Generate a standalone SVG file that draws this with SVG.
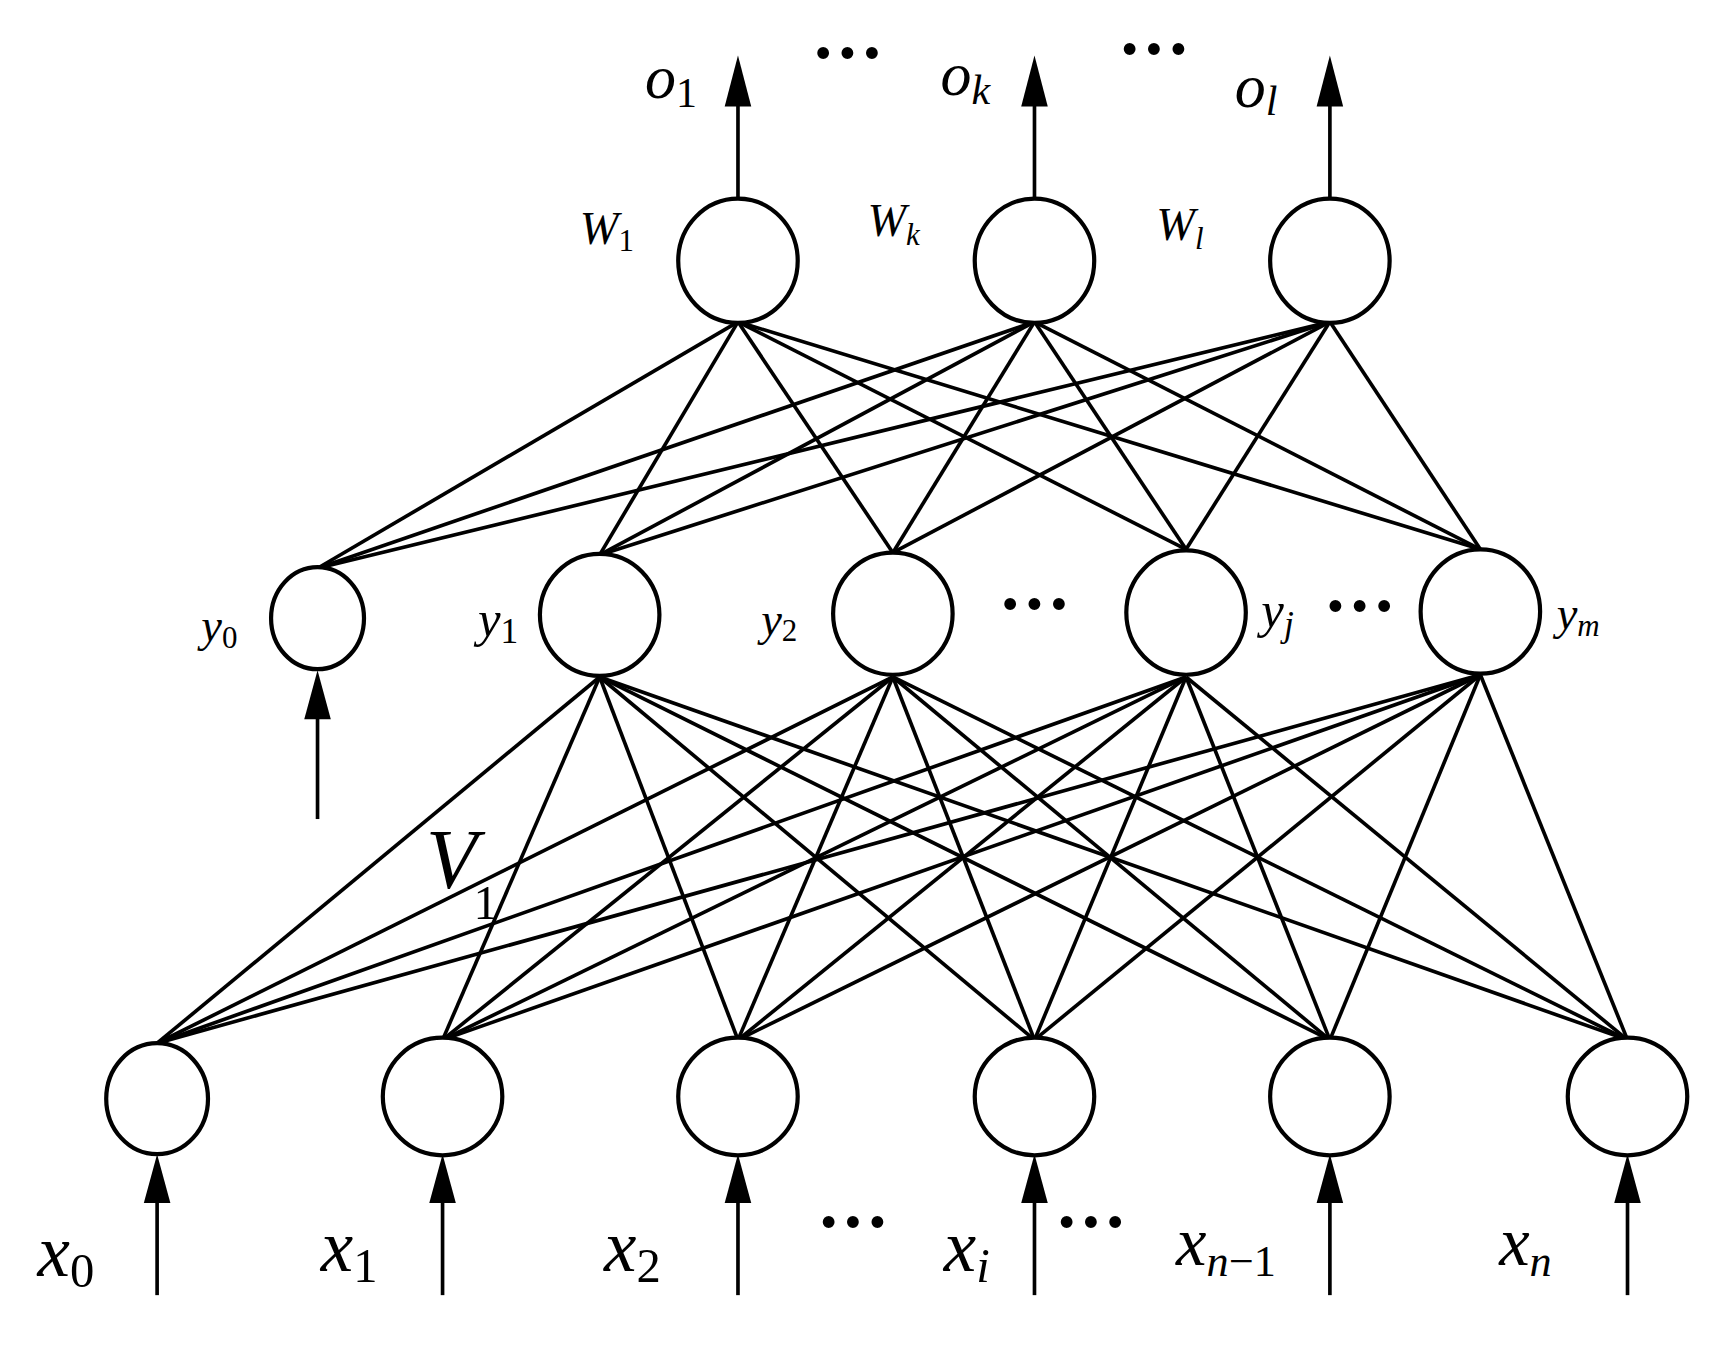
<svg xmlns="http://www.w3.org/2000/svg" width="1726" height="1354" viewBox="0 0 1726 1354">
<defs>
<style>
.n{fill:#fff;stroke:#000;stroke-width:3.8}
.c line{stroke:#000;stroke-width:3.3}
.a{fill:#000}
text{font-family:"Liberation Serif",serif;font-style:italic;fill:#000}
.s{font-style:normal}
.d{font-style:normal;font-weight:bold;font-size:66px}
</style>
</defs>
<rect width="1726" height="1354" fill="#fff"/>
<g transform="scale(1.1064,1.1098)">
<g class="c" id="connectors">
<line x1="667" y1="290" x2="287" y2="512"/><line x1="667" y1="290" x2="542" y2="500"/><line x1="667" y1="290" x2="807" y2="498"/><line x1="667" y1="290" x2="1072" y2="495"/><line x1="667" y1="290" x2="1338" y2="495"/>
<line x1="935" y1="290" x2="287" y2="512"/><line x1="935" y1="290" x2="542" y2="500"/><line x1="935" y1="290" x2="807" y2="498"/><line x1="935" y1="290" x2="1072" y2="495"/><line x1="935" y1="290" x2="1338" y2="495"/>
<line x1="1202" y1="290" x2="287" y2="512"/><line x1="1202" y1="290" x2="542" y2="500"/><line x1="1202" y1="290" x2="807" y2="498"/><line x1="1202" y1="290" x2="1072" y2="495"/><line x1="1202" y1="290" x2="1338" y2="495"/>
<line x1="542" y1="610" x2="142" y2="940"/><line x1="542" y1="610" x2="400" y2="937"/><line x1="542" y1="610" x2="667" y2="937"/><line x1="542" y1="610" x2="935" y2="937"/><line x1="542" y1="610" x2="1202" y2="937"/><line x1="542" y1="610" x2="1471" y2="937"/>
<line x1="807" y1="610" x2="142" y2="940"/><line x1="807" y1="610" x2="400" y2="937"/><line x1="807" y1="610" x2="667" y2="937"/><line x1="807" y1="610" x2="935" y2="937"/><line x1="807" y1="610" x2="1202" y2="937"/><line x1="807" y1="610" x2="1471" y2="937"/>
<line x1="1072" y1="610" x2="142" y2="940"/><line x1="1072" y1="610" x2="400" y2="937"/><line x1="1072" y1="610" x2="667" y2="937"/><line x1="1072" y1="610" x2="935" y2="937"/><line x1="1072" y1="610" x2="1202" y2="937"/><line x1="1072" y1="610" x2="1471" y2="937"/>
<line x1="1338" y1="608" x2="142" y2="940"/><line x1="1338" y1="608" x2="400" y2="937"/><line x1="1338" y1="608" x2="667" y2="937"/><line x1="1338" y1="608" x2="935" y2="937"/><line x1="1338" y1="608" x2="1202" y2="937"/><line x1="1338" y1="608" x2="1471" y2="937"/>
<line x1="667" y1="180" x2="667" y2="90"/><line x1="935" y1="180" x2="935" y2="90"/><line x1="1202" y1="180" x2="1202" y2="90"/>
<line x1="287" y1="738" x2="287" y2="640"/>
<line x1="142" y1="1167" x2="142" y2="1075"/><line x1="400" y1="1167" x2="400" y2="1075"/><line x1="667" y1="1167" x2="667" y2="1075"/><line x1="935" y1="1167" x2="935" y2="1075"/><line x1="1202" y1="1167" x2="1202" y2="1075"/><line x1="1471" y1="1167" x2="1471" y2="1075"/>
<polygon class="a" points="667,50 655,96 679,96"/><polygon class="a" points="935,50 923,96 947,96"/><polygon class="a" points="1202,50 1190,96 1214,96"/>
<polygon class="a" points="287,604 275,648 299,648"/>
<polygon class="a" points="142,1040 130,1084 154,1084"/><polygon class="a" points="400,1040 388,1084 412,1084"/><polygon class="a" points="667,1040 655,1084 679,1084"/><polygon class="a" points="935,1040 923,1084 947,1084"/><polygon class="a" points="1202,1040 1190,1084 1214,1084"/><polygon class="a" points="1471,1040 1459,1084 1483,1084"/>
</g>
<g id="w1"><ellipse class="n" cx="667" cy="235" rx="54" ry="56"/></g>
<g id="wk"><ellipse class="n" cx="935" cy="235" rx="54" ry="56"/></g>
<g id="wl"><ellipse class="n" cx="1202" cy="235" rx="54" ry="56"/></g>
<g id="y0"><ellipse class="n" cx="287" cy="557" rx="42" ry="46"/></g>
<g id="y1"><ellipse class="n" cx="542" cy="554" rx="54" ry="55"/></g>
<g id="y2"><ellipse class="n" cx="807" cy="553" rx="54" ry="55"/></g>
<g id="yj"><ellipse class="n" cx="1072" cy="552" rx="54" ry="56"/></g>
<g id="ym"><ellipse class="n" cx="1338" cy="551" rx="54" ry="56"/></g>
<g id="x0"><ellipse class="n" cx="142" cy="990" rx="46" ry="50"/></g>
<g id="x1"><ellipse class="n" cx="400" cy="988" rx="54" ry="53"/></g>
<g id="x2"><ellipse class="n" cx="667" cy="988" rx="54" ry="53"/></g>
<g id="xi"><ellipse class="n" cx="935" cy="988" rx="54" ry="53"/></g>
<g id="xn1"><ellipse class="n" cx="1202" cy="988" rx="54" ry="53"/></g>
<g id="xn"><ellipse class="n" cx="1471" cy="988" rx="54" ry="53"/></g>
<g id="labels">
<text x="583" y="88" font-size="56">o<tspan class="s" font-size="38" dy="8">1</tspan></text>
<text x="850" y="86" font-size="56">o<tspan font-size="38" dy="8">k</tspan></text>
<text x="1116" y="96" font-size="56">o<tspan font-size="38" dy="8">l</tspan></text>
<text x="733" y="70" class="d">···</text>
<text x="1010" y="67" class="d">···</text>
<text x="524" y="220" font-size="42">W<tspan class="s" font-size="28" dy="6">1</tspan></text>
<text x="784" y="213" font-size="42">W<tspan font-size="28" dy="8">k</tspan></text>
<text x="1045" y="216" font-size="42">W<tspan font-size="28" dy="8">l</tspan></text>
<text x="182" y="578" font-size="42">y<tspan class="s" font-size="28" dy="6">0</tspan></text>
<text x="432" y="573" font-size="46">y<tspan class="s" font-size="32" dy="6">1</tspan></text>
<text x="688" y="572" font-size="42">y<tspan class="s" font-size="28" dy="6">2</tspan></text>
<text x="1140" y="565" font-size="46">y<tspan font-size="32" dy="8">j</tspan></text>
<text x="1407" y="567" font-size="42">y<tspan font-size="28" dy="6">m</tspan></text>
<text x="902" y="567" class="d">···</text>
<text x="1196" y="569" class="d">···</text>
<text x="385" y="800" font-size="76">V</text>
<text x="428" y="828" font-size="44" class="s">1</text>
<text x="34" y="1150" font-size="66">x<tspan class="s" font-size="44" dy="10">0</tspan></text>
<text x="290" y="1145" font-size="66">x<tspan class="s" font-size="44" dy="10">1</tspan></text>
<text x="546" y="1145" font-size="66">x<tspan class="s" font-size="44" dy="10">2</tspan></text>
<text x="853" y="1145" font-size="66">x<tspan font-size="44" dy="10">i</tspan></text>
<text x="1063" y="1140" font-size="62">x<tspan font-size="40" dy="10">n</tspan><tspan class="s" font-size="40">−1</tspan></text>
<text x="1355" y="1140" font-size="62">x<tspan font-size="40" dy="10">n</tspan></text>
<text x="738" y="1124" class="d">···</text>
<text x="953" y="1124" class="d">···</text>
</g>
</g>
</svg>
